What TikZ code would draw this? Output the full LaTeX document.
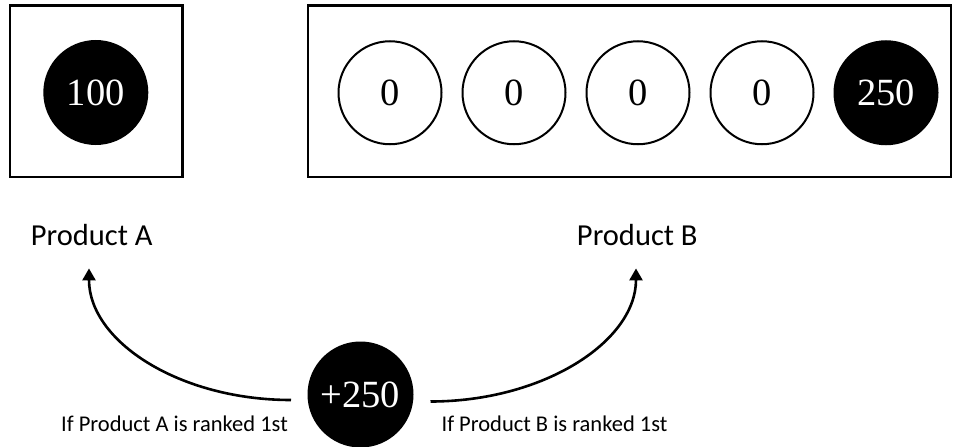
\documentclass[tikz,border=0pt]{standalone}
\usepackage{fontspec}
\newfontfamily\calibri{Carlito}
\newfontfamily\numfont{Liberation Serif}
\usetikzlibrary{arrows.meta}
\begin{document}
\begin{tikzpicture}[x=1pt,y=-1pt,
  box/.style={draw=black,line width=2.2pt,inner sep=0pt},
  coin/.style={circle,draw=black,line width=2pt,minimum size=103pt,inner sep=0pt,font=\numfont\fontsize{38.5}{38.5}\selectfont},
  full/.style={coin,fill=black,text=white},
  empty/.style={coin,fill=white},
  lab/.style={font=\calibri\fontsize{30.5}{36}\selectfont,inner sep=0pt,anchor=base},
  note/.style={font=\calibri\fontsize{22.5}{27}\selectfont,inner sep=0pt,anchor=base},
  arr/.style={line width=2.6pt,-{Triangle[length=12pt,width=13pt]}}]
\useasboundingbox (0,0) rectangle (953,447);
% boxes
\node[box,minimum width=172.5pt,minimum height=171.5pt] (boxA) at (96.25,91.25) {};
\node[box,minimum width=643pt,minimum height=171.5pt] (boxB) at (629.5,91.25) {};
% coins
\node[full] (a1) at (95.8,92.5) {100};
\node[empty] (b1) at (390,92.75) {0};
\node[empty] (b2) at (514,92.75) {0};
\node[empty] (b3) at (638,92.75) {0};
\node[empty] (b4) at (762,92.75) {0};
\node[full] (b5) at (886,92.75) {250};
% labels
\node[lab] (prodA) at (91.7,245.7) {Product A};
\node[lab] (prodB) at (637.3,245.7) {Product B};
% bonus
\node[full,minimum size=104pt] (plus) at (360.5,394.5) {+250};
\node[note] (noteA) at (174.5,431.7) {If Product A is ranked 1st};
\node[note] (noteB) at (554.5,431.7) {If Product B is ranked 1st};
% arrows
\draw[arr] ([xshift=-16.5pt,yshift=-5.5pt]plus.west) .. controls +(-111.6,0) and +(0,73) .. ([xshift=-2.7pt,yshift=-22.3pt]prodA.south);
\draw[arr] ([xshift=17pt,yshift=-7pt]plus.east) .. controls +(113,0) and +(0,73) .. ([xshift=-1.3pt,yshift=-22.3pt]prodB.south);
\end{tikzpicture}
\end{document}
